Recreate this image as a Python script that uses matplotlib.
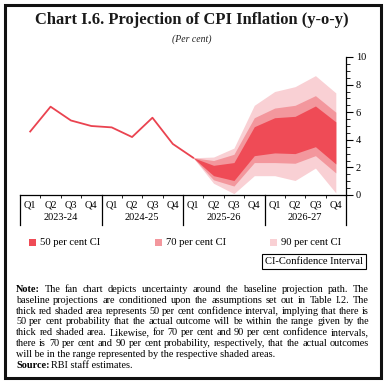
import numpy as np
import matplotlib
matplotlib.use('Agg')
import matplotlib.pyplot as plt
from matplotlib.patches import Rectangle

plt.rcParams['font.family'] = 'serif'
plt.rcParams['font.serif'] = ['Liberation Serif', 'DejaVu Serif']

# Data
# ----
years    = ['2023-24', '2024-25', '2025-26', '2026-27']
quarters = ['Q1', 'Q2', 'Q3', 'Q4'] * 4

# actual CPI inflation, Q1 2023-24 to Q1 2025-26
actual = [4.6, 6.4, 5.4, 5.0, 4.9, 4.2, 5.6, 3.7, 2.7]

# fan bands, Q1 2025-26 to Q4 2026-27
ci50_lo = [2.7, 1.4, 1.05, 2.85, 3.05, 3.0, 3.5, 2.25]
ci50_hi = [2.7, 2.15, 2.35, 4.95, 5.6, 5.7, 6.45, 5.3]
ci70_lo = [2.7, 1.1, 0.65, 2.35, 2.35, 2.3, 2.85, 1.6]
ci70_hi = [2.7, 2.5, 2.95, 5.6, 6.3, 6.5, 7.2, 6.0]
ci90_lo = [2.7, 0.85, 0.1, 1.4, 1.4, 1.05, 1.95, 0.15]
ci90_hi = [2.7, 2.75, 3.4, 6.5, 7.5, 7.85, 8.65, 7.4]

note_lines = [
    'Note: The fan chart depicts uncertainty around the baseline projection path. The',
    'baseline projections are conditioned upon the assumptions set out in Table I.2. The',
    'thick red shaded area represents 50 per cent confidence interval, implying that there is',
    '50 per cent probability that the actual outcome will be within the range given by the',
    'thick red shaded area. Likewise, for 70 per cent and 90 per cent confidence intervals,',
    'there is 70 per cent and 90 per cent probability, respectively, that the actual outcomes',
]
note_last = 'will be in the range represented by the respective shaded areas.'

c50 = '#EF4B56'
c70 = '#F3979D'
c90 = '#F9D0D4'
cline = '#EA4350'

W, H = 385, 384
fig = plt.figure(figsize=(W / 100, H / 100), dpi=100)

def fx(px):
    return px / W

def fy(py):
    return 1 - py / H

# outer frame
fig.patches.append(Rectangle((fx(5), fy(378)), fx(376), (373) / H, transform=fig.transFigure,
                             fill=False, lw=2.2, edgecolor='#111111'))

fig.text(fx(192), fy(20), 'Chart I.6. Projection of CPI Inflation (y-o-y)',
         ha='center', va='center', fontsize=11.9, fontweight='bold', color='#1a1a1a')
fig.text(fx(192), fy(39), '(Per cent)', ha='center', va='center',
         fontsize=7, style='italic', color='#222222')

ax = fig.add_axes([fx(20), fy(195), fx(346) - fx(20), (195 - 57) / H])
x_act = np.arange(len(actual))
x_fan = np.arange(8, 16)

ax.fill_between(x_fan, ci90_lo, ci90_hi, color=c90, lw=0)
ax.fill_between(x_fan, ci70_lo, ci70_hi, color=c70, lw=0)
ax.fill_between(x_fan, ci50_lo, ci50_hi, color=c50, lw=0)
ax.plot(x_act, actual, color=cline, lw=1.3)

ax.set_xlim(-0.5, 15.5)
ax.set_ylim(0, 10)
for s in ['left', 'top']:
    ax.spines[s].set_visible(False)
ax.spines['right'].set_linewidth(0.9)
ax.spines['bottom'].set_linewidth(0.9)
ax.yaxis.tick_right()
ax.set_yticks(np.arange(0, 11, 2))
ax.set_yticks(np.arange(0, 10.01, 0.5), minor=True)
ax.tick_params(axis='y', which='major', length=5, width=0.8, labelsize=7.5, pad=2)
ax.tick_params(axis='y', which='minor', length=3, width=0.6)

# quarter ticks and labels
ax.set_xticks(np.arange(-0.5, 15.6, 1))
ax.set_xticklabels([])
ax.tick_params(axis='x', which='major', length=2.5, width=0.6, direction='out')
for i, q in enumerate(quarters):
    ax.text(i, -0.072, q, transform=ax.get_xaxis_transform(),
            ha='center', va='center', fontsize=7.5)
for k, yr in enumerate(years):
    ax.text(4 * k + 1.5, -0.165, yr, transform=ax.get_xaxis_transform(),
            ha='center', va='center', fontsize=7.5)
for b in np.arange(-0.5, 16, 4):
    ax.plot([b, b], [0, -0.22], transform=ax.get_xaxis_transform(),
            color='black', lw=0.9, clip_on=False)

# legend
for px, col, lab in [(29, c50, '50 per cent CI'), (155, c70, '70 per cent CI'),
                     (270, c90, '90 per cent CI')]:
    fig.patches.append(Rectangle((fx(px), fy(245.5)), fx(6.5), 6.5 / H,
                                 transform=fig.transFigure, color=col, lw=0))
    fig.text(fx(px + 11), fy(242.5), lab, ha='left', va='center', fontsize=7.7)

fig.text(fx(314), fy(261.5), 'CI-Confidence Interval', ha='center', va='center',
         fontsize=7.6,
         bbox=dict(boxstyle='square,pad=0.25', facecolor='white', edgecolor='black', lw=0.8))

# note text, justified line by line
renderer = fig.canvas.get_renderer()
x0, x1 = 16, 369
fs = 7.4

def justify(line, ypx):
    words = line.split(' ')
    arts = []
    widths = []
    for w in words:
        wt = 'bold' if w == 'Note:' else 'normal'
        t = fig.text(0, fy(ypx), w, ha='left', va='baseline', fontsize=fs, fontweight=wt)
        widths.append(t.get_window_extent(renderer).width)
        arts.append(t)
    gap = (x1 - x0 - sum(widths)) / (len(words) - 1)
    xp = x0
    for t, wd in zip(arts, widths):
        t.set_x(fx(xp))
        xp += wd + gap

line_h = 10.8
base0 = 292
for i, ln in enumerate(note_lines):
    justify(ln, base0 + i * line_h)
fig.text(fx(x0), fy(base0 + 6 * line_h), note_last, ha='left', va='baseline', fontsize=fs)
t = fig.text(fx(x0), fy(base0 + 7 * line_h), 'Source:', ha='left', va='baseline',
             fontsize=fs, fontweight='bold')
wd = t.get_window_extent(renderer).width
fig.text(fx(x0 + wd + 2), fy(base0 + 7 * line_h), 'RBI staff estimates.',
         ha='left', va='baseline', fontsize=fs)

fig.savefig('out.png', dpi=100)
